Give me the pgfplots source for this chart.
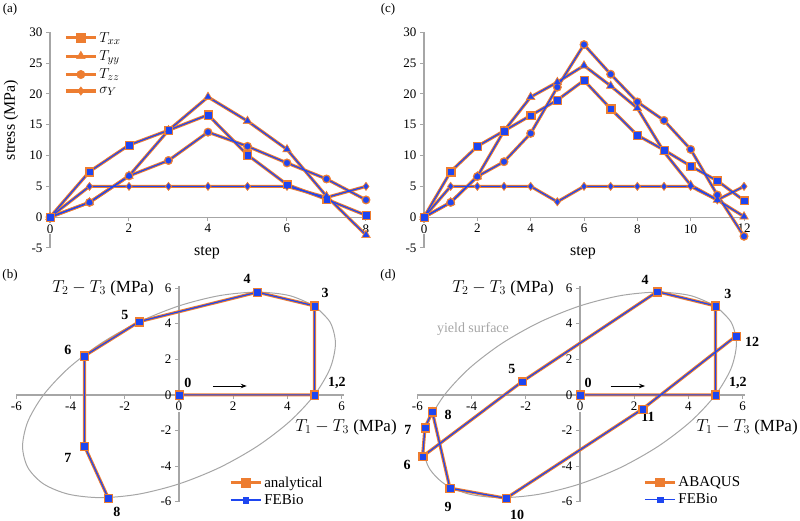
\documentclass[border=0pt]{standalone}
\usepackage{fontspec}
\setmainfont{Liberation Serif}
\usepackage{pgfplots}
\usepackage{pgfplotstable}
\pgfplotsset{compat=1.18}
\usetikzlibrary{arrows.meta}

\definecolor{abq}{HTML}{ED7D31}
\definecolor{feb}{HTML}{1E46F0}
\definecolor{axgray}{HTML}{A6A6A6}

% loading path 1: stress history (a) and deviatoric path (b)
\pgfplotstableread{
step Txx  Tyy  Tzz  sY
0    0    0    0    0
1    7.4  2.4  2.4  5.0
2    11.7 6.7  6.7  5.0
3    14.1 14.1 9.2  5.0
4    16.6 19.5 13.8 5.0
5    10.1 15.6 11.5 5.0
6    5.3  11.0 8.8  5.0
7    2.9  3.4  6.2  3.2
8    0.3  -2.9 2.8  5.0
}\histA
\pgfplotstableread{
s1    s2
0     0
5     0
5     0
5     5
2.89  5.77
-1.46 4.12
-3.49 2.19
-3.49 -2.87
-2.61 -5.80
}\pathA

% loading path 2: stress history (c) and deviatoric path (d)
\pgfplotstableread{
step Txx  Tyy  Tzz  sY
0    0    0    0    0
1    7.4  2.4  2.4  5.0
2    11.5 6.6  6.6  5.0
3    14.0 14.0 9.0  5.0
4    16.5 19.5 13.6 5.0
5    19.0 21.9 21.1 2.5
6    22.2 24.6 28.0 5.0
7    17.6 21.3 23.2 5.0
8    13.3 17.7 18.7 5.0
9    10.9 10.6 15.7 5.0
10   8.3  5.2  11.0 5.0
11   5.9  2.8  3.6  2.8
12   2.7  0.1  -3.1 5.0
}\histB
\pgfplotstableread{
s1    s2
0     0
5     0
5     0
5     5
2.85  5.80
-2.13 0.75
-5.81 -3.46
-5.72 -1.84
-5.45 -0.94
-4.80 -5.24
-2.73 -5.81
2.31  -0.79
5.76  3.31
}\pathB

% yield surface (sigma_Y = 5 MPa)
\pgfplotstableread{
ysx    ysy
5      5
4.083  5.577
2.887  5.773
1.494  5.577
0      5
-1.495 4.083
-2.887 2.887
-4.083 1.495
-5     0
-5.577 -1.494
-5.773 -2.887
-5.577 -4.083
-5     -5
-4.083 -5.577
-2.887 -5.773
-1.494 -5.577
0      -5
1.495  -4.083
2.887  -2.887
4.083  -1.495
5      0
5.577  1.494
5.773  2.887
5.577  4.083
5      5
}\yieldsurf

\pgfplotsset{
  panel/.style={
    scale only axis, clip=false, anchor=south west,
    axis lines=middle,
    axis line style={axgray, line width=1.3pt, -},
    every inner x axis line/.append style={-},
    every inner y axis line/.append style={-},
    tick align=outside, major tick length=4pt,
    tick style={axgray, line width=1pt},
    tick label style={font=\fontsize{13}{15}\selectfont},
    x tick label style={fill=white, inner sep=1pt, yshift=-2pt},
    /pgf/number format/assume math mode=true,
    hide obscured x ticks=false, hide obscured y ticks=false,
    legend cell align=left,
    legend image code/.code={\draw[mark repeat=2, mark phase=2, #1] plot coordinates {(0pt,0pt) (15pt,0pt) (30pt,0pt)};},
  },
  ana/.style={abq, line width=3.2pt, mark size=4.2pt,
    mark options={solid, fill=abq, draw=abq, line width=0.5pt}},
  fe/.style={feb, line width=1.2pt, mark size=2.8pt,
    mark options={solid, fill=feb, draw=feb, line width=0.3pt}},
}
\tikzset{lbl/.style={font=\bfseries\fontsize{14}{16}\selectfont}}

\begin{document}
\begin{tikzpicture}
\useasboundingbox (0pt,0pt) rectangle (800pt,-521pt);

\node[font=\fontsize{13}{15}\selectfont] at (10pt,-9pt) {(a)};
\node[font=\fontsize{13}{15}\selectfont] at (388pt,-9pt) {(c)};
\node[font=\fontsize{13}{15}\selectfont] at (10pt,-275pt) {(b)};
\node[font=\fontsize{13}{15}\selectfont] at (388pt,-275pt) {(d)};

% (a)
\begin{axis}[panel, at={(50pt,-248pt)}, width=316pt, height=215.7pt,
  xmin=0, xmax=8, ymin=-5, ymax=30,
  xtick={0,2,...,8}, ytick={-5,0,...,30},
  legend style={at={(0.035,1.02)}, anchor=north west, draw=none, fill=none,
    font=\fontsize{15}{17}\selectfont, row sep=3pt},
]
\addplot[ana, mark=square*] table[x=step, y=Txx] {\histA};
\addlegendentry{$T_{xx}$}
\addplot[ana, mark=triangle*, mark size=5pt] table[x=step, y=Tyy] {\histA};
\addlegendentry{$T_{yy}$}
\addplot[ana, mark=*] table[x=step, y=Tzz] {\histA};
\addlegendentry{$T_{zz}$}
\addplot[ana, mark=diamond*] table[x=step, y=sY] {\histA};
\addlegendentry{$\sigma_Y$}
\addplot[fe, mark=square*, forget plot] table[x=step, y=Txx] {\histA};
\addplot[fe, mark=triangle*, mark size=3.4pt, forget plot] table[x=step, y=Tyy] {\histA};
\addplot[fe, mark=*, forget plot] table[x=step, y=Tzz] {\histA};
\addplot[fe, mark=diamond*, forget plot] table[x=step, y=sY] {\histA};
\end{axis}
\node[rotate=90, font=\fontsize{16}{18}\selectfont] at (11pt,-120pt) {stress (MPa)};
\node[font=\fontsize{16}{18}\selectfont] at (207pt,-253pt) {step};

% (c)
\begin{axis}[panel, at={(424pt,-248pt)}, width=320pt, height=215.7pt,
  xmin=0, xmax=12, ymin=-5, ymax=30,
  xtick={0,2,...,12}, ytick={-5,0,...,30},
]
\addplot[ana, mark=square*] table[x=step, y=Txx] {\histB};
\addplot[ana, mark=triangle*, mark size=5pt] table[x=step, y=Tyy] {\histB};
\addplot[ana, mark=*] table[x=step, y=Tzz] {\histB};
\addplot[ana, mark=diamond*] table[x=step, y=sY] {\histB};
\addplot[fe, mark=square*] table[x=step, y=Txx] {\histB};
\addplot[fe, mark=triangle*, mark size=3.4pt] table[x=step, y=Tyy] {\histB};
\addplot[fe, mark=*] table[x=step, y=Tzz] {\histB};
\addplot[fe, mark=diamond*] table[x=step, y=sY] {\histB};
\end{axis}
\node[font=\fontsize{16}{18}\selectfont] at (583pt,-253pt) {step};

% (b)
\begin{axis}[panel, at={(16.4pt,-501.7pt)}, width=327.9pt, height=215.4pt,
  xmin=-6, xmax=6.1, ymin=-6, ymax=6.1,
  xtick={-6,-4,...,6}, ytick={-6,-4,...,6},
  legend style={at={(0.639,0.135)}, anchor=north west, draw=none, fill=none,
    font=\fontsize{15}{17}\selectfont, row sep=1.5pt},
]
\addplot[axgray, line width=1pt, smooth, forget plot] table[x=ysx, y=ysy] {\yieldsurf};
\addplot[ana, mark=square*] table[x=s1, y=s2] {\pathA};
\addlegendentry{analytical}
\addplot[fe, mark=square*] table[x=s1, y=s2] {\pathA};
\addlegendentry{FEBio}
\draw[-{Stealth[length=6pt]}, line width=0.9pt] (axis cs:1.25,0.5) -- (axis cs:2.5,0.5);
\node[lbl] at (axis cs:0.33,0.67) {0};
\node[lbl] at (axis cs:5.83,0.67) {1,2};
\node[lbl] at (axis cs:5.39,5.73) {3};
\node[lbl] at (axis cs:2.51,6.52) {4};
\node[lbl] at (axis cs:-2.0,4.49) {5};
\node[lbl] at (axis cs:-4.10,2.53) {6};
\node[lbl] at (axis cs:-4.10,-3.54) {7};
\node[lbl] at (axis cs:-2.29,-6.57) {8};
\end{axis}
\node[font=\fontsize{17}{19}\selectfont] at (103pt,-288pt) {$T_2 - T_3$ (MPa)};
\node[font=\fontsize{17}{19}\selectfont] at (346pt,-427pt) {$T_1 - T_3$ (MPa)};

% (d)
\begin{axis}[panel, at={(417.4pt,-501.7pt)}, width=327.9pt, height=215.4pt,
  xmin=-6, xmax=6.1, ymin=-6, ymax=6.1,
  xtick={-6,-4,...,6}, ytick={-6,-4,...,6},
  legend style={at={(0.679,0.135)}, anchor=north west, draw=none, fill=none,
    font=\fontsize{15}{17}\selectfont, row sep=1.5pt},
]
\addplot[axgray, line width=1pt, smooth, forget plot] table[x=ysx, y=ysy] {\yieldsurf};
\addplot[ana, mark=square*] table[x=s1, y=s2] {\pathB};
\addlegendentry{ABAQUS}
\addplot[fe, mark=square*] table[x=s1, y=s2] {\pathB};
\addlegendentry{FEBio}
\draw[-{Stealth[length=6pt]}, line width=0.9pt] (axis cs:1.13,0.5) -- (axis cs:2.4,0.5);
\node[font=\fontsize{14}{16}\selectfont, text=axgray] at (axis cs:-3.95,3.71) {yield surface};
\node[lbl] at (axis cs:0.30,0.67) {0};
\node[lbl] at (axis cs:5.83,0.67) {1,2};
\node[lbl] at (axis cs:5.46,5.67) {3};
\node[lbl] at (axis cs:2.40,6.46) {4};
\node[lbl] at (axis cs:-2.51,1.46) {5};
\node[lbl] at (axis cs:-6.38,-3.93) {6};
\node[lbl] at (axis cs:-6.35,-1.97) {7};
\node[lbl] at (axis cs:-4.87,-1.12) {8};
\node[lbl] at (axis cs:-4.87,-6.29) {9};
\node[lbl] at (axis cs:-2.32,-6.74) {10};
\node[lbl] at (axis cs:2.51,-1.24) {11};
\node[lbl] at (axis cs:6.35,2.98) {12};
\end{axis}
\node[font=\fontsize{17}{19}\selectfont] at (503pt,-288pt) {$T_2 - T_3$ (MPa)};
\node[font=\fontsize{17}{19}\selectfont] at (747pt,-427pt) {$T_1 - T_3$ (MPa)};
\end{tikzpicture}
\end{document}
